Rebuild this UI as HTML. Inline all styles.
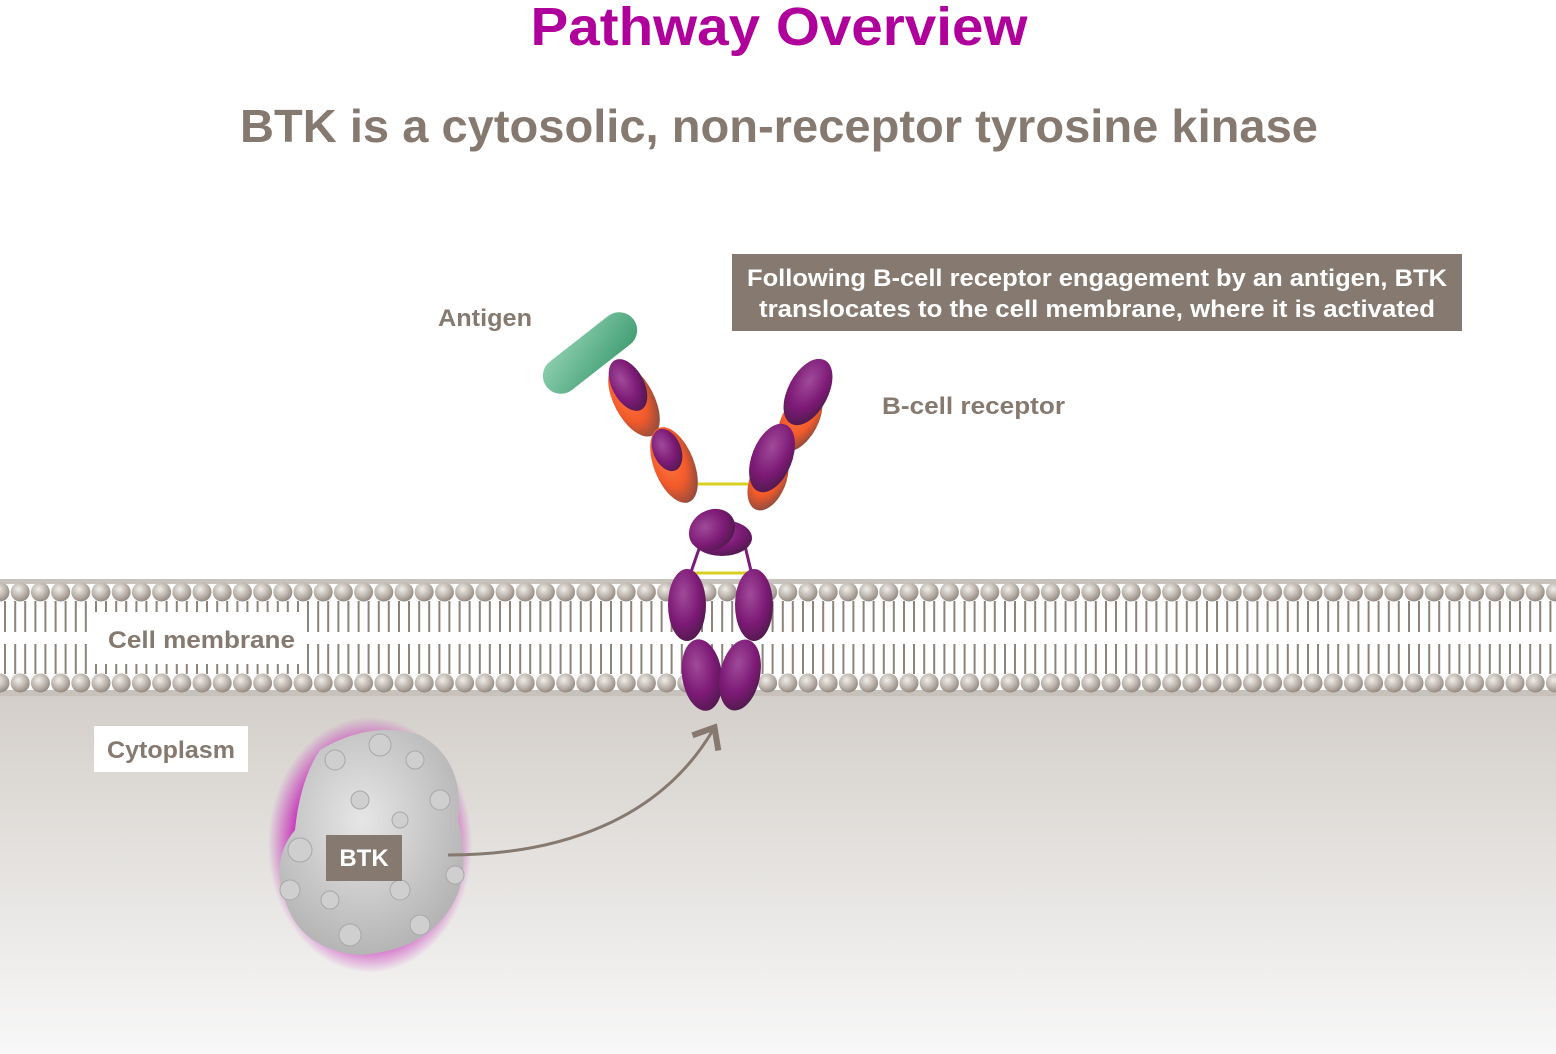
<!DOCTYPE html>
<html><head><meta charset="utf-8"><style>
html,body{margin:0;padding:0;background:#fff}
svg{display:block}
text{font-family:"Liberation Sans",sans-serif;font-weight:bold}
</style></head><body>
<svg width="1556" height="1054" viewBox="0 0 1556 1054">
<defs>
<linearGradient id="cyto" x1="0" y1="0" x2="0" y2="1"><stop offset="0" stop-color="#d3cec9"/><stop offset="1" stop-color="#f8f8f8"/></linearGradient>
<radialGradient id="bead" cx="0.4" cy="0.35" r="0.7"><stop offset="0" stop-color="#f0ede9"/><stop offset="0.6" stop-color="#b9b1a9"/><stop offset="1" stop-color="#8c837b"/></radialGradient>
<radialGradient id="purp" cx="0.4" cy="0.35" r="0.7"><stop offset="0" stop-color="#a04a9a"/><stop offset="0.6" stop-color="#7d1a76"/><stop offset="1" stop-color="#4f1a4c"/></radialGradient>
<radialGradient id="orng" cx="0.4" cy="0.35" r="0.7"><stop offset="0" stop-color="#ff7a44"/><stop offset="0.6" stop-color="#f25a2a"/><stop offset="1" stop-color="#8a4a40"/></radialGradient>
<radialGradient id="glow" cx="0.5" cy="0.5" r="0.5"><stop offset="0.7" stop-color="#c21fb4"/><stop offset="1" stop-color="#c21fb4" stop-opacity="0"/></radialGradient>
<radialGradient id="btkg" cx="0.45" cy="0.4" r="0.6"><stop offset="0" stop-color="#e6e6e6"/><stop offset="1" stop-color="#b5b5b5"/></radialGradient>
<linearGradient id="ag" x1="0" y1="0" x2="1" y2="1"><stop offset="0" stop-color="#8fd0b0"/><stop offset="1" stop-color="#3f9c72"/></linearGradient>
<marker id="arr" markerWidth="12" markerHeight="12" refX="6" refY="6" orient="auto"><path d="M1,1 L7,6 L1,11" fill="none" stroke="#857970" stroke-width="2"/></marker>
</defs>

<text x="779" y="45" text-anchor="middle" font-size="54" fill="#b0009c" textLength="497" lengthAdjust="spacingAndGlyphs">Pathway Overview</text>
<text x="779" y="142" text-anchor="middle" font-size="46" fill="#857970" textLength="1078" lengthAdjust="spacingAndGlyphs">BTK is a cytosolic, non-receptor tyrosine kinase</text>

<rect x="0" y="690" width="1556" height="364" fill="url(#cyto)"/>
<g id="membrane">
<rect x="0" y="579" width="1556" height="5" fill="#c8c2bc"/>
<rect x="0" y="690" width="1556" height="6" fill="#c8c2bc"/>
</g>

<rect x="94" y="726" width="154" height="46" fill="#fff"/>
<text x="107" y="758" font-size="24" fill="#857970" textLength="128" lengthAdjust="spacingAndGlyphs">Cytoplasm</text>

<rect x="732" y="254" width="730" height="77" fill="#857970"/>
<text x="1097" y="286" text-anchor="middle" font-size="24" fill="#fff" textLength="700" lengthAdjust="spacingAndGlyphs">Following B-cell receptor engagement by an antigen, BTK</text>
<text x="1097" y="317" text-anchor="middle" font-size="24" fill="#fff" textLength="676" lengthAdjust="spacingAndGlyphs">translocates to the cell membrane, where it is activated</text>

<text x="438" y="326" font-size="24" fill="#857970" textLength="94" lengthAdjust="spacingAndGlyphs">Antigen</text>
<text x="882" y="414" font-size="24" fill="#857970" textLength="183" lengthAdjust="spacingAndGlyphs">B-cell receptor</text>

<g>
<rect x="535" y="335" width="110" height="36" rx="18" fill="url(#ag)" transform="rotate(-38 590 353)"/>
</g>

<g id="bcr">
<line x1="698" y1="484" x2="748" y2="484" stroke="#d8d020" stroke-width="3"/>
<line x1="692" y1="573" x2="750" y2="573" stroke="#d8d020" stroke-width="3"/>
<line x1="700" y1="546" x2="690" y2="575" stroke="#7d1a76" stroke-width="3"/>
<line x1="745" y1="546" x2="752" y2="575" stroke="#7d1a76" stroke-width="3"/>
<ellipse cx="634" cy="400" rx="20" ry="40" fill="url(#orng)" transform="rotate(-28 634 400)"/>
<ellipse cx="628" cy="385" rx="16" ry="28" fill="url(#purp)" transform="rotate(-28 628 385)"/>
<ellipse cx="674" cy="465" rx="20" ry="40" fill="url(#orng)" transform="rotate(-22 674 465)"/>
<ellipse cx="667" cy="450" rx="14" ry="22" fill="url(#purp)" transform="rotate(-22 667 450)"/>
<ellipse cx="800" cy="420" rx="18" ry="34" fill="url(#orng)" transform="rotate(28 800 420)"/>
<ellipse cx="808" cy="392" rx="20" ry="36" fill="url(#purp)" transform="rotate(28 808 392)"/>
<ellipse cx="768" cy="480" rx="18" ry="32" fill="url(#orng)" transform="rotate(22 768 480)"/>
<ellipse cx="772" cy="458" rx="20" ry="36" fill="url(#purp)" transform="rotate(22 772 458)"/>
<ellipse cx="722" cy="538" rx="30" ry="18" fill="url(#purp)"/>
<ellipse cx="712" cy="530" rx="24" ry="20" fill="url(#purp)" transform="rotate(-30 712 530)"/>
<ellipse cx="687" cy="605" rx="19" ry="36" fill="url(#purp)"/>
<ellipse cx="754" cy="605" rx="19" ry="36" fill="url(#purp)"/>
<ellipse cx="702" cy="675" rx="20" ry="36" fill="url(#purp)" transform="rotate(-8 702 675)"/>
<ellipse cx="740" cy="675" rx="20" ry="36" fill="url(#purp)" transform="rotate(12 740 675)"/>
</g>

<g>
<ellipse cx="370" cy="845" rx="102" ry="128" fill="url(#glow)"/>
<path d="M320,750 Q370,720 420,735 Q465,760 458,820 Q470,870 455,900 Q430,950 360,955 Q300,950 285,900 Q270,860 295,830 Q300,780 320,750Z" fill="url(#btkg)"/>
<g fill="#cfcfcf" stroke="#a8a8a8" stroke-width="1">
<circle cx="335" cy="760" r="10"/><circle cx="380" cy="745" r="11"/><circle cx="415" cy="760" r="9"/><circle cx="440" cy="800" r="10"/><circle cx="300" cy="850" r="12"/><circle cx="290" cy="890" r="10"/><circle cx="350" cy="935" r="11"/><circle cx="420" cy="925" r="10"/><circle cx="455" cy="875" r="9"/><circle cx="360" cy="800" r="9"/><circle cx="400" cy="820" r="8"/><circle cx="330" cy="900" r="9"/><circle cx="400" cy="890" r="10"/>
</g>
</g>
<path d="M448,855 C560,855 660,820 713,730" fill="none" stroke="#857970" stroke-width="3" marker-end="url(#arr)"/>
<rect x="326" y="835" width="76" height="46" fill="#857970"/>
<text x="364" y="866" text-anchor="middle" font-size="24" fill="#fff">BTK</text>
</svg>
<script>
const NS='http://www.w3.org/2000/svg';
const mem=document.getElementById('membrane');
const bcr=document.getElementById('bcr');
for(let x=0;x<1570;x+=20.2){
  [592,683].forEach(cy=>{
    const c=document.createElementNS(NS,'circle');
    c.setAttribute('cx',x);c.setAttribute('cy',cy);c.setAttribute('r',9.5);
    c.setAttribute('fill','url(#bead)');
    
    
    mem.appendChild(c);
  });
  [-5,5].forEach(dx=>{
    const lx=x+dx;
    const inLabel=(lx>92&&lx<305);
    [[601,632],[644,674]].forEach(([a,b])=>{
      let y1=a,y2=b;
      if(inLabel){ if(a===601){y2=612;} else {y1=664;} }
      const l=document.createElementNS(NS,'line');
      l.setAttribute('x1',lx);l.setAttribute('x2',lx);
      l.setAttribute('y1',y1);l.setAttribute('y2',y2);
      l.setAttribute('stroke','#8c837b');l.setAttribute('stroke-width','2');
      
      
      mem.appendChild(l);
    });
  });
}
const t=document.createElementNS(NS,'text');
t.setAttribute('x',108);t.setAttribute('y',648);t.setAttribute('font-size',24);
t.setAttribute('fill','#857970');t.setAttribute('textLength',187);t.setAttribute('lengthAdjust','spacingAndGlyphs');


t.textContent='Cell membrane';
mem.appendChild(t);
bcr.parentNode.appendChild(bcr);
</script>
</body></html>
